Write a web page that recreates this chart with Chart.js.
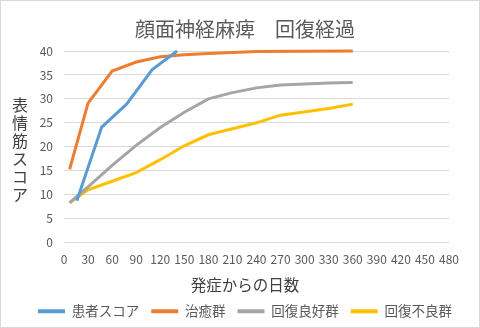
<!DOCTYPE html>
<html><head><meta charset="utf-8">
<script src="https://cdn.jsdelivr.net/npm/chart.js@4/dist/chart.umd.min.js"></script>
<style>html,body{margin:0;padding:0;background:#fff}#wrap{width:480px;height:328px;position:relative}</style>
</head><body><div id="wrap"><canvas id="c"></canvas></div>
<script>
const titleText = '顔面神経麻痺　回復経過';
const xAxisTitle = '発症からの日数';
const yAxisTitle = '表情筋スコア';
const seriesNames = ['患者スコア', '治癒群', '回復良好群', '回復不良群'];
const seriesColors = ['#5B9BD5', '#ED7D31', '#A5A5A5', '#FFC000'];
const patientDays = [16, 47, 78, 110, 141];
const patientScores = [8.7, 24.1, 28.9, 36.1, 40];
const curedDays = [7, 30, 60, 90, 120, 150, 180, 240, 360];
const curedScores = [15.3, 29.1, 35.8, 37.7, 38.8, 39.2, 39.5, 39.9, 40];
const goodDays = [7, 30, 60, 90, 120, 150, 180, 210, 240, 270, 300, 330, 360];
const goodScores = [8.3, 11.6, 16.1, 20.3, 24.0, 27.2, 30.0, 31.3, 32.3, 32.9, 33.1, 33.3, 33.4];
const poorDays = [7, 30, 60, 90, 120, 150, 180, 240, 270, 330, 360];
const poorScores = [8.3, 11.0, 12.8, 14.6, 17.3, 20.2, 22.5, 25.0, 26.6, 28.0, 28.9];
const xTicks = [0, 30, 60, 90, 120, 150, 180, 210, 240, 270, 300, 330, 360, 390, 420, 450, 480];
const yTicks = [0, 5, 10, 15, 20, 25, 30, 35, 40];

const allDays = [patientDays, curedDays, goodDays, poorDays];
const allScores = [patientScores, curedScores, goodScores, poorScores];

const FONT = "'Noto Sans CJK JP', 'Noto Sans', sans-serif";

const frame = {
  id: 'frame',
  beforeDraw(chart) {
    const c = chart.ctx;
    c.save(); c.fillStyle = '#fff'; c.fillRect(0, 0, chart.width, chart.height); c.restore();
  },
  afterDraw(chart) {
    const c = chart.ctx;
    c.save();
    c.strokeStyle = '#d9d9d9'; c.lineWidth = 1;
    c.strokeRect(0.5, 0.5, chart.width - 1, chart.height - 1);
    c.fillStyle = '#404040';
    c.textAlign = 'center'; c.textBaseline = 'middle';
    // vertical stacked y-axis title
    c.font = '16px ' + FONT;
    const chars = Array.from(yAxisTitle);
    const step = 18;
    const a = chart.chartArea;
    const cy = (a.top + a.bottom) / 2 + 3;
    const start = cy - (chars.length - 1) * step / 2;
    chars.forEach((ch, i) => c.fillText(ch, 20, start + i * step));
    // x-axis title
    c.font = '15.5px ' + FONT;
    c.fillText(xAxisTitle, 245, a.bottom + 43);
    c.restore();
  }
};

new Chart(document.getElementById('c'), {
  type: 'scatter',
  data: {
    datasets: seriesNames.map((name, i) => ({
      label: name,
      data: allDays[i].map((d, j) => ({ x: d, y: allScores[i][j] })),
      showLine: true,
      borderColor: seriesColors[i],
      backgroundColor: seriesColors[i],
      borderWidth: 3,
      pointRadius: 0,
      pointHoverRadius: 0,
      tension: 0,
      clip: 3
    }))
  },
  options: {
    responsive: true,
    maintainAspectRatio: false,
    animation: false,
    devicePixelRatio: 1,
    layout: { padding: { left: 10, right: 0, top: 0, bottom: 0 } },
    plugins: {
      tooltip: { enabled: false },
      title: {
        display: true,
        text: titleText,
        color: '#595959',
        font: { family: FONT, size: 20, weight: 'normal' },
        padding: { top: 17, bottom: 10 }
      },
      legend: {
        position: 'bottom',
        labels: {
          color: '#595959',
          font: { family: FONT, size: 13.5 },
          boxWidth: 27,
          boxHeight: 4,
          padding: 12,
          generateLabels(chart) {
            const items = Chart.defaults.plugins.legend.labels.generateLabels(chart);
            items.forEach(it => { it.lineWidth = 0; it.strokeStyle = 'rgba(0,0,0,0)'; });
            return items;
          }
        }
      }
    },
    scales: {
      x: {
        type: 'linear',
        min: 0, max: 480,
        afterBuildTicks(s) { s.ticks = xTicks.map(v => ({ value: v })); },
        afterFit(s) { s.height = 50; },
        grid: { display: false, drawTicks: false },
        border: { display: false },
        ticks: { color: '#595959', font: { family: FONT, size: 12 }, padding: 10, maxRotation: 0, autoSkip: false }
      },
      y: {
        min: 0, max: 40,
        afterBuildTicks(s) { s.ticks = yTicks.map(v => ({ value: v })); },
        afterFit(s) { s.width = 54; },
        grid: { color: '#d9d9d9', drawTicks: false, lineWidth: 1 },
        border: { display: false },
        ticks: { color: '#595959', font: { family: FONT, size: 12 }, padding: 11 }
      },
      y2: {
        position: 'right',
        min: 0, max: 40,
        afterFit(s) { s.width = 31; },
        grid: { display: false, drawTicks: false },
        border: { display: false },
        ticks: { display: false }
      }
    }
  },
  plugins: [frame]
});
</script>
</body></html>
